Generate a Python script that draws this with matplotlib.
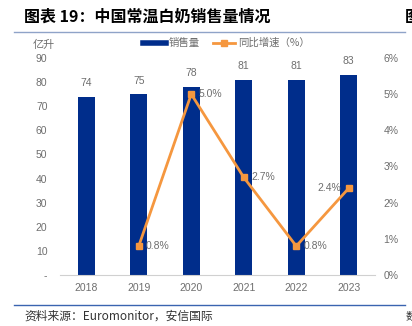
import matplotlib
matplotlib.use('Agg')
import matplotlib.pyplot as plt
from matplotlib.lines import Line2D

plt.rcParams['font.family'] = ['Noto Sans CJK SC', 'DejaVu Sans']
num_font = ['Liberation Sans', 'Noto Sans CJK SC']

years = ['2018', '2019', '2020', '2021', '2022', '2023']
volume = [74, 75, 78, 81, 81, 83]
growth_years = ['2019', '2020', '2021', '2022', '2023']
growth = [0.8, 5.0, 2.7, 0.8, 2.4]

blue = '#002D8B'
orange = '#F5973F'
gray = '#6E6E6E'

fig = plt.figure(figsize=(4.12, 3.26), dpi=100)
ax = fig.add_axes([60 / 412, 1 - 275 / 326, 315 / 412, 217 / 326])
ax2 = ax.twinx()

x = list(range(len(years)))
ax.bar(x, volume, width=0.32, color=blue, zorder=2)
for xi, v in zip(x, volume):
    ax.text(xi, v + 3.5, str(v), ha='center', va='bottom', fontsize=7.5, color=gray, family=num_font)

ax.set_xlim(-0.5, 5.5)
ax.set_ylim(0, 90)
ax.set_yticks(range(0, 91, 10))
ax.set_yticklabels(['-'] + [str(t) for t in range(10, 91, 10)])
ax.set_xticks(x)
ax.set_xticklabels(years)
for s in ['top', 'left', 'right']:
    ax.spines[s].set_visible(False)
    ax2.spines[s].set_visible(False)
ax.spines['bottom'].set_color('#d0d0d0')
ax2.spines['bottom'].set_visible(False)
ax.tick_params(axis='x', length=0, labelsize=7.5, labelcolor=gray, pad=6)
ax.tick_params(axis='y', length=0, labelsize=7.5, labelcolor=gray, pad=9)
for lab in ax.get_xticklabels() + ax.get_yticklabels():
    lab.set_family(num_font)

gx = [years.index(y) for y in growth_years]
ax2.plot(gx, growth, color=orange, lw=2, marker='s', ms=4.5, zorder=3)
ax2.set_ylim(0, 6)
ax2.set_yticks(range(0, 7))
ax2.set_yticklabels([f'{t}%' for t in range(0, 7)])
ax2.tick_params(axis='y', length=0, labelsize=7.5, labelcolor=gray, pad=6)
for lab in ax2.get_yticklabels():
    lab.set_family(num_font)
for xi, g in zip(gx, growth):
    if xi == 5:
        ax2.text(xi - 0.14, g, f'{g:.1f}%', ha='right', va='center', fontsize=7.5, color=gray, family=num_font)
    else:
        ax2.text(xi + 0.14, g, f'{g:.1f}%', ha='left', va='center', fontsize=7.5, color=gray, family=num_font)

handles = [Line2D([0], [0], color=blue, lw=4),
           Line2D([0], [0], color=orange, lw=2, marker='s', ms=4)]
fig.legend(handles, ['销售量', '同比增速（%）'], loc='center', bbox_to_anchor=(0.55, 1 - 43 / 326),
           ncol=2, frameon=False, fontsize=7.5, labelcolor=gray, handlelength=2.2,
           columnspacing=1.2, handletextpad=0.3)

fig.text(33 / 412, 1 - 45 / 326, '亿升', fontsize=8, color=gray, va='center')

fig.text(24 / 412, 1 - 17 / 326, '图表 19：中国常温白奶销售量情况', fontsize=11.5,
         fontweight='bold', va='center', color='black')
fig.text(405 / 412, 1 - 17 / 326, '图', fontsize=11.5, fontweight='bold', va='center')
fig.add_artist(Line2D([14 / 412, 405 / 412], [1 - 32 / 326, 1 - 32 / 326], color='#8FA3C8', lw=1))
fig.add_artist(Line2D([14 / 412, 405 / 412], [1 - 305 / 326, 1 - 305 / 326], color='#3A64B0', lw=1))
fig.text(24 / 412, 1 - 316 / 326, '资料来源：Euromonitor，安信国际', fontsize=8.5, style='italic',
         va='center', color='#333333')
fig.text(406 / 412, 1 - 316 / 326, '数', fontsize=8, va='center', color='#333333')

fig.savefig('out.png', dpi=100)
plt.close()
